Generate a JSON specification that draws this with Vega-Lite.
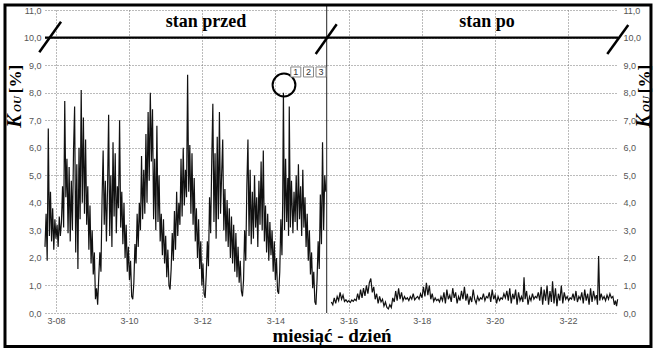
{
"$schema": "https://vega.github.io/schema/vega-lite/v6.json",
"width": 573, "height": 303,
"autosize": {"type": "none"},
"padding": {"left": 45, "top": 10, "right": 37, "bottom": 36},
"background": "white",
"config": {"view": {"stroke": null}},
"datasets": {
"pre": [
{"d":7.70,"v":2.4},{"d":7.73,"v":3.6},{"d":7.76,"v":1.9},{"d":7.79,"v":6.7},{"d":7.82,"v":2.8},{"d":7.85,"v":4.4},{"d":7.88,"v":2.6},{"d":7.91,"v":3.8},{"d":7.94,"v":2.3},{"d":7.97,"v":3.4},
{"d":8.00,"v":2.7},{"d":8.03,"v":3.2},{"d":8.06,"v":2.4},{"d":8.09,"v":3.5},{"d":8.12,"v":2.8},{"d":8.15,"v":3.3},{"d":8.18,"v":4.6},{"d":8.21,"v":3.1},{"d":8.24,"v":7.7},{"d":8.27,"v":4.2},
{"d":8.30,"v":5.6},{"d":8.33,"v":2.9},{"d":8.36,"v":5.3},{"d":8.39,"v":2.6},{"d":8.42,"v":4.8},{"d":8.45,"v":3.0},{"d":8.48,"v":5.9},{"d":8.51,"v":7.5},{"d":8.54,"v":2.2},{"d":8.57,"v":5.4},
{"d":8.60,"v":1.6},{"d":8.63,"v":6.0},{"d":8.66,"v":3.4},{"d":8.69,"v":8.1},{"d":8.72,"v":4.0},{"d":8.75,"v":7.1},{"d":8.78,"v":3.6},{"d":8.81,"v":6.3},{"d":8.84,"v":3.2},{"d":8.87,"v":4.6},
{"d":8.90,"v":2.3},{"d":8.93,"v":3.9},{"d":8.96,"v":1.8},{"d":8.99,"v":3.0},{"d":9.02,"v":1.4},{"d":9.05,"v":2.2},{"d":9.08,"v":0.5},{"d":9.11,"v":0.9},{"d":9.14,"v":0.3},{"d":9.17,"v":1.3},
{"d":9.20,"v":2.2},{"d":9.23,"v":1.5},{"d":9.26,"v":4.1},{"d":9.29,"v":5.9},{"d":9.32,"v":3.2},{"d":9.35,"v":4.8},{"d":9.38,"v":2.6},{"d":9.41,"v":4.5},{"d":9.44,"v":7.2},{"d":9.47,"v":2.8},
{"d":9.50,"v":5.0},{"d":9.53,"v":2.4},{"d":9.56,"v":6.2},{"d":9.59,"v":3.5},{"d":9.62,"v":5.8},{"d":9.65,"v":2.9},{"d":9.68,"v":4.6},{"d":9.71,"v":3.8},{"d":9.74,"v":7.0},{"d":9.77,"v":3.1},
{"d":9.80,"v":4.4},{"d":9.83,"v":2.5},{"d":9.86,"v":4.0},{"d":9.89,"v":2.0},{"d":9.92,"v":3.2},{"d":9.95,"v":1.5},{"d":9.98,"v":2.4},{"d":10.01,"v":1.2},{"d":10.04,"v":1.9},{"d":10.07,"v":0.6},
{"d":10.10,"v":0.5},{"d":10.13,"v":1.1},{"d":10.16,"v":2.5},{"d":10.19,"v":1.8},{"d":10.22,"v":3.6},{"d":10.25,"v":2.4},{"d":10.28,"v":4.0},{"d":10.31,"v":3.0},{"d":10.34,"v":5.7},{"d":10.37,"v":3.4},
{"d":10.40,"v":5.2},{"d":10.43,"v":3.6},{"d":10.46,"v":6.5},{"d":10.49,"v":4.0},{"d":10.52,"v":7.3},{"d":10.55,"v":4.8},{"d":10.58,"v":8.0},{"d":10.61,"v":5.5},{"d":10.64,"v":7.4},{"d":10.67,"v":3.4},
{"d":10.70,"v":5.6},{"d":10.73,"v":3.0},{"d":10.76,"v":6.8},{"d":10.79,"v":3.3},{"d":10.82,"v":5.0},{"d":10.85,"v":2.6},{"d":10.88,"v":3.6},{"d":10.91,"v":2.1},{"d":10.94,"v":3.4},{"d":10.97,"v":1.8},
{"d":11.00,"v":2.8},{"d":11.03,"v":1.3},{"d":11.06,"v":2.3},{"d":11.09,"v":1.0},{"d":11.12,"v":0.85},{"d":11.15,"v":1.6},{"d":11.18,"v":2.9},{"d":11.21,"v":1.9},{"d":11.24,"v":3.7},{"d":11.27,"v":2.3},
{"d":11.30,"v":4.4},{"d":11.33,"v":2.8},{"d":11.36,"v":4.0},{"d":11.39,"v":3.2},{"d":11.42,"v":5.6},{"d":11.45,"v":3.5},{"d":11.48,"v":6.0},{"d":11.51,"v":3.9},{"d":11.54,"v":5.2},{"d":11.57,"v":4.2},
{"d":11.60,"v":8.65},{"d":11.63,"v":4.4},{"d":11.66,"v":6.1},{"d":11.69,"v":3.6},{"d":11.72,"v":5.8},{"d":11.75,"v":3.2},{"d":11.78,"v":4.9},{"d":11.81,"v":2.6},{"d":11.84,"v":3.8},{"d":11.87,"v":2.0},
{"d":11.90,"v":3.4},{"d":11.93,"v":1.6},{"d":11.96,"v":2.6},{"d":11.99,"v":1.0},{"d":12.02,"v":1.8},{"d":12.05,"v":0.7},{"d":12.08,"v":0.55},{"d":12.11,"v":1.4},{"d":12.14,"v":2.6},{"d":12.17,"v":1.7},
{"d":12.20,"v":4.2},{"d":12.23,"v":2.9},{"d":12.26,"v":5.5},{"d":12.29,"v":7.6},{"d":12.32,"v":3.3},{"d":12.35,"v":5.8},{"d":12.38,"v":2.7},{"d":12.41,"v":6.4},{"d":12.44,"v":3.4},{"d":12.47,"v":7.3},
{"d":12.50,"v":3.6},{"d":12.53,"v":5.0},{"d":12.56,"v":6.3},{"d":12.59,"v":3.0},{"d":12.62,"v":4.5},{"d":12.65,"v":2.6},{"d":12.68,"v":4.1},{"d":12.71,"v":2.4},{"d":12.74,"v":3.8},{"d":12.77,"v":2.0},
{"d":12.80,"v":3.5},{"d":12.83,"v":1.8},{"d":12.86,"v":3.2},{"d":12.89,"v":1.5},{"d":12.92,"v":2.9},{"d":12.95,"v":1.3},{"d":12.98,"v":2.4},{"d":13.01,"v":1.1},{"d":13.04,"v":1.9},{"d":13.07,"v":0.8},
{"d":13.10,"v":0.6},{"d":13.13,"v":1.2},{"d":13.16,"v":3.0},{"d":13.19,"v":1.9},{"d":13.22,"v":4.6},{"d":13.25,"v":6.3},{"d":13.28,"v":2.8},{"d":13.31,"v":5.2},{"d":13.34,"v":2.5},{"d":13.37,"v":4.4},
{"d":13.40,"v":2.7},{"d":13.43,"v":5.0},{"d":13.46,"v":3.1},{"d":13.49,"v":4.2},{"d":13.52,"v":2.4},{"d":13.55,"v":4.8},{"d":13.58,"v":3.2},{"d":13.61,"v":5.5},{"d":13.64,"v":3.0},{"d":13.67,"v":5.9},
{"d":13.70,"v":2.6},{"d":13.73,"v":3.9},{"d":13.76,"v":2.2},{"d":13.79,"v":3.6},{"d":13.82,"v":1.9},{"d":13.85,"v":3.3},{"d":13.88,"v":2.1},{"d":13.91,"v":3.0},{"d":13.94,"v":1.5},{"d":13.97,"v":2.6},
{"d":14.00,"v":1.2},{"d":14.03,"v":2.0},{"d":14.06,"v":0.8},{"d":14.09,"v":0.7},{"d":14.12,"v":1.5},{"d":14.15,"v":3.4},{"d":14.18,"v":2.1},{"d":14.20,"v":4.0},{"d":14.22,"v":8.0},{"d":14.25,"v":3.0},
{"d":14.28,"v":5.6},{"d":14.31,"v":3.3},{"d":14.34,"v":4.9},{"d":14.36,"v":2.8},{"d":14.38,"v":7.5},{"d":14.41,"v":3.1},{"d":14.44,"v":4.8},{"d":14.48,"v":2.9},{"d":14.51,"v":4.4},{"d":14.54,"v":3.3},
{"d":14.57,"v":5.0},{"d":14.60,"v":3.0},{"d":14.63,"v":5.4},{"d":14.66,"v":3.4},{"d":14.69,"v":4.6},{"d":14.72,"v":2.8},{"d":14.75,"v":5.2},{"d":14.78,"v":3.1},{"d":14.81,"v":4.2},{"d":14.84,"v":2.4},
{"d":14.87,"v":3.6},{"d":14.90,"v":1.9},{"d":14.93,"v":3.0},{"d":14.96,"v":1.4},{"d":14.99,"v":2.2},{"d":15.02,"v":0.9},{"d":15.05,"v":1.5},{"d":15.08,"v":0.4},{"d":15.11,"v":0.3},{"d":15.14,"v":1.2},
{"d":15.17,"v":2.6},{"d":15.20,"v":1.6},{"d":15.23,"v":4.3},{"d":15.26,"v":2.5},{"d":15.29,"v":6.2},{"d":15.32,"v":3.0},{"d":15.35,"v":5.0},{"d":15.38,"v":4.4}
],
"post": [
{"d":15.53,"v":0.4},{"d":15.57,"v":0.3},{"d":15.61,"v":0.55},{"d":15.65,"v":0.35},{"d":15.69,"v":0.6},{"d":15.73,"v":0.45},{"d":15.77,"v":0.75},{"d":15.81,"v":0.5},{"d":15.85,"v":0.65},{"d":15.89,"v":0.42},
{"d":15.93,"v":0.48},{"d":15.97,"v":0.4},{"d":16.01,"v":0.45},{"d":16.05,"v":0.38},{"d":16.09,"v":0.47},{"d":16.13,"v":0.42},{"d":16.17,"v":0.5},{"d":16.21,"v":0.45},{"d":16.25,"v":0.7},{"d":16.29,"v":0.48},
{"d":16.33,"v":0.85},{"d":16.37,"v":0.55},{"d":16.41,"v":0.9},{"d":16.45,"v":0.62},{"d":16.49,"v":1.0},{"d":16.53,"v":0.7},{"d":16.57,"v":1.1},{"d":16.61,"v":1.25},{"d":16.65,"v":0.75},{"d":16.69,"v":0.95},
{"d":16.73,"v":0.5},{"d":16.77,"v":0.7},{"d":16.81,"v":0.35},{"d":16.85,"v":0.6},{"d":16.89,"v":0.4},{"d":16.93,"v":0.5},{"d":16.97,"v":0.25},{"d":17.01,"v":0.4},{"d":17.05,"v":0.2},{"d":17.09,"v":0.15},
{"d":17.13,"v":0.3},{"d":17.17,"v":0.2},{"d":17.21,"v":0.55},{"d":17.25,"v":0.4},{"d":17.29,"v":0.8},{"d":17.33,"v":0.45},{"d":17.37,"v":0.9},{"d":17.41,"v":0.5},{"d":17.45,"v":0.75},{"d":17.49,"v":0.45},
{"d":17.53,"v":0.6},{"d":17.57,"v":0.5},{"d":17.61,"v":0.55},{"d":17.65,"v":0.45},{"d":17.69,"v":0.6},{"d":17.73,"v":0.5},{"d":17.77,"v":0.7},{"d":17.81,"v":0.48},{"d":17.85,"v":0.55},{"d":17.89,"v":0.6},
{"d":17.93,"v":0.5},{"d":17.97,"v":0.7},{"d":18.01,"v":0.55},{"d":18.05,"v":0.95},{"d":18.09,"v":0.6},{"d":18.13,"v":1.1},{"d":18.17,"v":0.65},{"d":18.21,"v":1.0},{"d":18.25,"v":0.5},{"d":18.29,"v":0.7},
{"d":18.33,"v":0.42},{"d":18.37,"v":0.55},{"d":18.41,"v":0.45},{"d":18.45,"v":0.5},{"d":18.49,"v":0.4},{"d":18.53,"v":0.6},{"d":18.57,"v":0.45},{"d":18.61,"v":0.75},{"d":18.65,"v":0.35},{"d":18.69,"v":0.85},
{"d":18.73,"v":0.5},{"d":18.77,"v":0.65},{"d":18.81,"v":0.4},{"d":18.85,"v":0.9},{"d":18.89,"v":0.55},{"d":18.93,"v":0.75},{"d":18.97,"v":0.35},{"d":19.01,"v":0.6},{"d":19.05,"v":0.45},{"d":19.09,"v":0.8},
{"d":19.13,"v":0.5},{"d":19.17,"v":0.95},{"d":19.21,"v":0.45},{"d":19.25,"v":0.7},{"d":19.29,"v":0.3},{"d":19.33,"v":0.6},{"d":19.37,"v":0.4},{"d":19.41,"v":0.85},{"d":19.45,"v":0.5},{"d":19.49,"v":0.35},
{"d":19.53,"v":0.6},{"d":19.57,"v":0.45},{"d":19.61,"v":0.55},{"d":19.65,"v":0.5},{"d":19.69,"v":0.7},{"d":19.73,"v":0.45},{"d":19.77,"v":0.6},{"d":19.81,"v":0.55},{"d":19.85,"v":0.75},{"d":19.89,"v":0.4},
{"d":19.93,"v":0.85},{"d":19.97,"v":0.5},{"d":20.01,"v":0.65},{"d":20.05,"v":0.35},{"d":20.09,"v":0.6},{"d":20.13,"v":0.45},{"d":20.17,"v":0.55},{"d":20.21,"v":0.5},{"d":20.25,"v":0.7},{"d":20.29,"v":0.55},
{"d":20.33,"v":0.8},{"d":20.37,"v":0.45},{"d":20.41,"v":0.9},{"d":20.45,"v":0.35},{"d":20.49,"v":0.7},{"d":20.53,"v":0.5},{"d":20.57,"v":0.85},{"d":20.61,"v":0.3},{"d":20.65,"v":0.75},{"d":20.69,"v":0.45},
{"d":20.73,"v":0.6},{"d":20.77,"v":0.4},{"d":20.80,"v":1.3},{"d":20.83,"v":0.5},{"d":20.87,"v":0.8},{"d":20.91,"v":0.3},{"d":20.95,"v":0.6},{"d":20.99,"v":0.45},{"d":21.03,"v":0.7},{"d":21.07,"v":0.5},
{"d":21.11,"v":0.6},{"d":21.15,"v":0.55},{"d":21.19,"v":0.75},{"d":21.23,"v":0.45},{"d":21.27,"v":0.95},{"d":21.31,"v":0.3},{"d":21.35,"v":0.85},{"d":21.39,"v":0.45},{"d":21.43,"v":1.0},{"d":21.47,"v":0.3},
{"d":21.51,"v":0.8},{"d":21.55,"v":0.4},{"d":21.58,"v":1.15},{"d":21.62,"v":0.35},{"d":21.66,"v":0.9},{"d":21.70,"v":0.25},{"d":21.74,"v":0.7},{"d":21.78,"v":0.45},{"d":21.82,"v":1.0},{"d":21.86,"v":0.35},
{"d":21.90,"v":0.75},{"d":21.94,"v":0.5},{"d":21.98,"v":0.6},{"d":22.02,"v":0.45},{"d":22.06,"v":0.55},{"d":22.10,"v":0.5},{"d":22.14,"v":0.7},{"d":22.18,"v":0.45},{"d":22.22,"v":0.8},{"d":22.26,"v":0.4},
{"d":22.30,"v":0.6},{"d":22.34,"v":0.5},{"d":22.38,"v":0.75},{"d":22.42,"v":0.35},{"d":22.46,"v":0.85},{"d":22.50,"v":0.45},{"d":22.54,"v":0.7},{"d":22.58,"v":0.3},{"d":22.62,"v":0.9},{"d":22.66,"v":0.4},
{"d":22.70,"v":0.8},{"d":22.74,"v":0.5},{"d":22.78,"v":0.65},{"d":22.81,"v":0.3},{"d":22.84,"v":2.07},{"d":22.87,"v":0.45},{"d":22.91,"v":0.7},{"d":22.95,"v":0.5},{"d":22.99,"v":0.6},{"d":23.03,"v":0.45},
{"d":23.07,"v":0.65},{"d":23.11,"v":0.5},{"d":23.15,"v":0.7},{"d":23.19,"v":0.55},{"d":23.23,"v":0.6},{"d":23.27,"v":0.3},{"d":23.30,"v":0.45},{"d":23.33,"v":0.25},{"d":23.36,"v":0.5}
],
"slashes": [
{"a":7.544,"b":8.138,"p":9.465,"q":10.575},
{"a":15.103,"b":15.677,"p":9.403,"q":10.481},
{"a":23.077,"b":23.651,"p":9.403,"q":10.456}
],
"boxes": [
{"n":"1","d":14.559,"v":8.75},
{"n":"2","d":14.906,"v":8.75},
{"n":"3","d":15.248,"v":8.75}
],
"heads": [
{"t":"stan przed","d":12.103,"v":10.37},
{"t":"stan po","d":19.787,"v":10.37}
],
"ttlK": [{"d":6.880,"v":6.97},{"d":24.08,"v":6.97}],
"ttlOU": [{"d":6.962,"v":7.588},{"d":24.16,"v":7.588}],
"ttlP": [{"d":6.907,"v":8.495},{"d":24.10,"v":8.495}]
},
"layer": [
{
"data": {"name": "pre"},
"mark": {"type": "line", "color": "#111", "strokeWidth": 1.2, "clip": false},
"encoding": {
"x": {"field": "d", "type": "quantitative",
"scale": {"domain": [7.7, 23.37], "nice": false, "zero": false},
"axis": {"orient": "bottom", "values": [8,10,12,14,16,18,20,22],
"labelExpr": "'3-' + (datum.value < 10 ? '0' + datum.value : datum.value)",
"title": "miesiąć - dzień", "grid": true, "gridDash": [1,2], "gridColor": "#777",
"domain": false, "ticks": false, "tickSize": 0, "labelPadding": 3,
"labelFont": "Liberation Sans", "labelFontSize": 9, "labelColor": "#555",
"titleFont": "Liberation Serif", "titleFontSize": 19, "titleFontWeight": "bold", "titleColor": "#000", "titlePadding": 1}},
"y": {"field": "v", "type": "quantitative",
"scale": {"domain": [0, 11], "nice": false, "zero": false},
"axis": {"orient": "left", "values": [0,1,2,3,4,5,6,7,8,9,10,11],
"labelExpr": "replace(format(datum.value, '.1f'), '.', ',')",
"title": null, "grid": true, "gridDash": [1,2], "gridColor": "#777",
"domain": false, "ticks": false, "tickSize": 0, "labelPadding": 4,
"labelFont": "Liberation Sans", "labelFontSize": 9, "labelColor": "#555"}}
}
},
{
"data": {"name": "post"},
"mark": {"type": "line", "color": "#111", "strokeWidth": 1.2, "clip": false},
"encoding": {
"x": {"field": "d", "type": "quantitative", "axis": null},
"y": {"field": "v", "type": "quantitative",
"axis": {"orient": "right", "values": [0,1,2,3,4,5,6,7,8,9,10,11],
"labelExpr": "replace(format(datum.value, '.1f'), '.', ',')",
"title": null, "grid": false,
"domain": false, "ticks": false, "tickSize": 0, "labelPadding": 5,
"labelFont": "Liberation Sans", "labelFontSize": 9, "labelColor": "#555"}}
}
},
{
"data": {"values": [{}]},
"mark": {"type": "rule", "color": "#222", "strokeWidth": 1, "clip": false},
"encoding": {
"x": {"datum": 15.404, "type": "quantitative", "axis": null},
"y": {"datum": 0, "type": "quantitative", "axis": null},
"y2": {"datum": 11.18}
}
},
{
"data": {"values": [{}]},
"mark": {"type": "rule", "color": "#000", "strokeWidth": 2.2, "clip": false},
"encoding": {
"x": {"datum": 7.7, "type": "quantitative", "axis": null},
"x2": {"datum": 23.37},
"y": {"datum": 10, "type": "quantitative", "axis": null}
}
},
{
"data": {"name": "slashes"},
"mark": {"type": "rule", "color": "#000", "strokeWidth": 2.5, "clip": false},
"encoding": {
"x": {"field": "a", "type": "quantitative", "axis": null},
"x2": {"field": "b"},
"y": {"field": "p", "type": "quantitative", "axis": null},
"y2": {"field": "q"}
}
},
{
"data": {"values": [{}]},
"mark": {"type": "point", "shape": "circle", "size": 520, "filled": false, "stroke": "#000", "strokeWidth": 2, "opacity": 1, "clip": false},
"encoding": {
"x": {"datum": 14.236, "type": "quantitative", "axis": null},
"y": {"datum": 8.277, "type": "quantitative", "axis": null}
}
},
{
"data": {"name": "boxes"},
"mark": {"type": "point", "shape": "square", "size": 100, "filled": true, "fill": "white", "stroke": "#888", "strokeWidth": 1, "opacity": 1, "clip": false},
"encoding": {
"x": {"field": "d", "type": "quantitative", "axis": null},
"y": {"field": "v", "type": "quantitative", "axis": null}
}
},
{
"data": {"name": "boxes"},
"mark": {"type": "text", "font": "Liberation Sans", "fontSize": 9, "color": "#333", "align": "center", "baseline": "middle", "clip": false},
"encoding": {
"x": {"field": "d", "type": "quantitative", "axis": null},
"y": {"field": "v", "type": "quantitative", "axis": null},
"text": {"field": "n"}
}
},
{
"data": {"name": "heads"},
"mark": {"type": "text", "font": "Liberation Serif", "fontSize": 18, "fontWeight": "bold", "color": "#000", "align": "center", "baseline": "alphabetic", "clip": false},
"encoding": {
"x": {"field": "d", "type": "quantitative", "axis": null},
"y": {"field": "v", "type": "quantitative", "axis": null},
"text": {"field": "t"}
}
},
{
"data": {"name": "ttlK"},
"mark": {"type": "text", "text": "K", "font": "Liberation Serif", "fontSize": 20, "fontWeight": "bold", "fontStyle": "italic", "color": "#000", "angle": 270, "align": "center", "baseline": "middle", "clip": false},
"encoding": {
"x": {"field": "d", "type": "quantitative", "axis": null},
"y": {"field": "v", "type": "quantitative", "axis": null}
}
},
{
"data": {"name": "ttlOU"},
"mark": {"type": "text", "text": "OU", "font": "Liberation Serif", "fontSize": 11, "fontWeight": "bold", "fontStyle": "italic", "color": "#000", "angle": 270, "align": "center", "baseline": "middle", "clip": false},
"encoding": {
"x": {"field": "d", "type": "quantitative", "axis": null},
"y": {"field": "v", "type": "quantitative", "axis": null}
}
},
{
"data": {"name": "ttlP"},
"mark": {"type": "text", "text": "[%]", "font": "Liberation Serif", "fontSize": 17, "fontWeight": "bold", "color": "#000", "angle": 270, "align": "center", "baseline": "middle", "clip": false},
"encoding": {
"x": {"field": "d", "type": "quantitative", "axis": null},
"y": {"field": "v", "type": "quantitative", "axis": null}
}
},
{
"data": {"values": [{}]},
"mark": {"type": "rect", "fill": null, "fillOpacity": 0, "stroke": "#000", "strokeWidth": 3, "clip": false},
"encoding": {
"x": {"datum": 6.606, "type": "quantitative", "axis": null},
"x2": {"datum": 24.272},
"y": {"datum": 11.182, "type": "quantitative", "axis": null},
"y2": {"datum": -1.216}
}
}
],
"resolve": {"axis": {"x": "independent", "y": "independent"}}
}
